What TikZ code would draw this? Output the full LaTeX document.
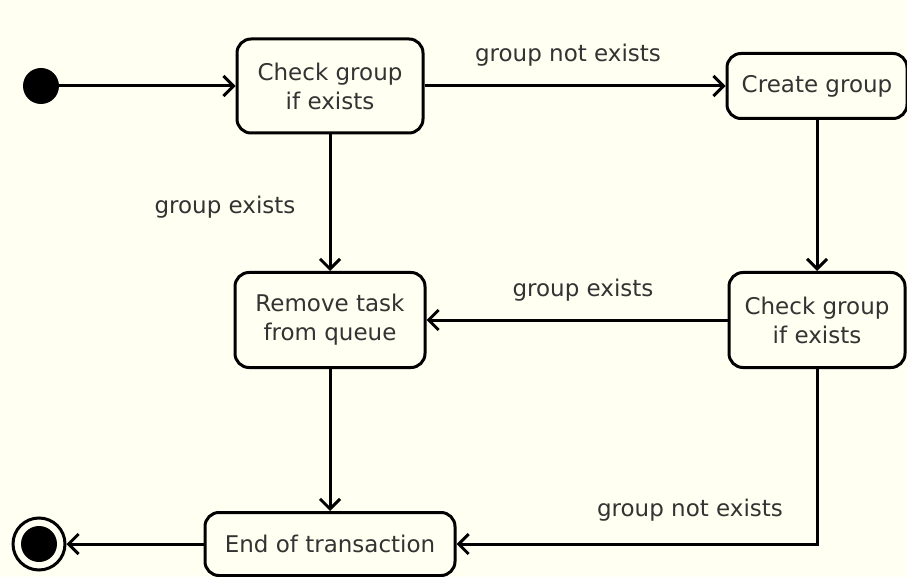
\documentclass[tikz,border=0pt]{standalone}
\usepackage{fontspec}
\setmainfont{DejaVu Sans}
\usetikzlibrary{arrows.meta}
\definecolor{bgcream}{RGB}{255,255,242}
\definecolor{txtgray}{RGB}{51,51,51}

\begin{document}
\begin{tikzpicture}[x=1pt,y=-1pt,
  state/.style={draw,line width=3pt,rounded corners=14pt,fill=bgcream,text=txtgray,align=center,inner sep=0pt,font=\fontsize{23}{29}\selectfont},
  lbl/.style={text=txtgray,font=\fontsize{23}{29}\selectfont},
  flow/.style={line width=3pt,-{Straight Barb[length=10pt,width=20pt]}}]
\fill[bgcream] (0,0) rectangle (907,577);
\useasboundingbox (0,0) rectangle (907,577);
\node[circle,fill=black,minimum size=36pt,inner sep=0pt] (init) at (41,86) {};
\node[state,minimum width=186pt,minimum height=94pt] (check1) at (330,86) {Check group\\if exists};
\node[state,minimum width=180pt,minimum height=65pt] (create) at (817,86) {Create group};
\node[state,minimum width=176pt,minimum height=95pt] (check2) at (817,320) {Check group\\if exists};
\node[state,minimum width=190pt,minimum height=95pt] (remove) at (330,320) {Remove task\\from queue};
\node[state,minimum width=250pt,minimum height=63pt] (endtx) at (330,544) {End of transaction};
\node[circle,draw,line width=3pt,minimum size=52pt,inner sep=0pt] (final) at (39,544) {};
\node[circle,fill=black,minimum size=36pt,inner sep=0pt] (finaldot) at (final.center) {};
\node[lbl] (notexists1) at (568,55) {group not exists};
\node[lbl] (exists1) at (225,207) {group exists};
\node[lbl] (exists2) at (583,290) {group exists};
\node[lbl] (notexists2) at (690,510) {group not exists};
\draw[flow] (init) -- (check1);
\draw[flow] (check1) -- (create);
\draw[flow] (create) -- (check2);
\draw[flow] (check1) -- (remove);
\draw[flow] (check2) -- (remove);
\draw[flow] (remove) -- (endtx);
\draw[flow] (check2.south) |- (endtx.east);
\draw[flow] (endtx) -- (final);
\end{tikzpicture}
\end{document}
